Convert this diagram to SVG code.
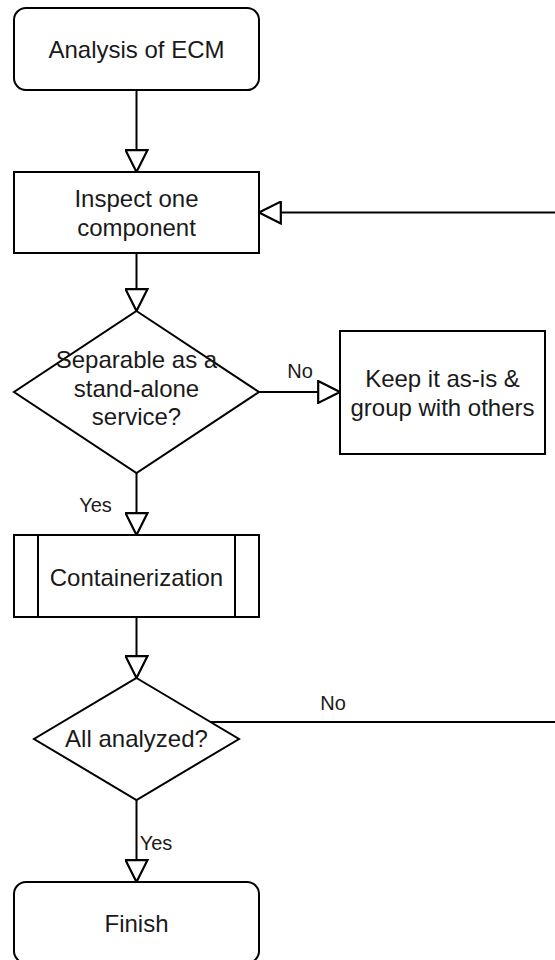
<svg xmlns="http://www.w3.org/2000/svg" width="555" height="960" viewBox="0 0 555 960">
<style>
.shape{fill:#fff;stroke:#000;stroke-width:2}
.edge{fill:none;stroke:#000;stroke-width:2}
.t{font-family:"Liberation Sans",Arial,sans-serif;font-size:24px;fill:#1a1a1a;text-anchor:middle}
.lbl{font-family:"Liberation Sans",Arial,sans-serif;font-size:20px;fill:#1a1a1a;text-anchor:middle}
</style>
<defs>
<marker id="arr" markerUnits="userSpaceOnUse" markerWidth="24" markerHeight="24" viewBox="-1 -11 22 22" refX="20" refY="0" orient="auto">
<path d="M0,-10 L20,0 L0,10 Z" fill="#fff" stroke="#000" stroke-width="2" stroke-linejoin="miter"/>
</marker>
</defs>
<g id="n-analysis">
<rect class="shape" x="14" y="8" width="245" height="82" rx="12" ry="12"/>
<text class="t" x="136.5" y="58">Analysis of ECM</text>
</g>
<g id="n-inspect">
<rect class="shape" x="14" y="172" width="245" height="81"/>
<text class="t" x="136.5" y="207">Inspect one</text>
<text class="t" x="136.5" y="236">component</text>
</g>
<g id="n-separable">
<polygon class="shape" points="136.5,311 259,392 136.5,473 14,392"/>
<text class="t" x="136.5" y="368">Separable as a</text>
<text class="t" x="136.5" y="397">stand-alone</text>
<text class="t" x="136.5" y="425">service?</text>
</g>
<g id="n-keep">
<rect class="shape" x="340" y="331" width="205" height="123"/>
<text class="t" x="442.5" y="387">Keep it as-is &amp;</text>
<text class="t" x="442.5" y="416">group with others</text>
</g>
<g id="n-container">
<rect class="shape" x="14" y="535" width="245" height="82"/>
<line class="edge" x1="38" y1="535" x2="38" y2="617"/>
<line class="edge" x1="235" y1="535" x2="235" y2="617"/>
<text class="t" x="136.5" y="586">Containerization</text>
</g>
<g id="n-all">
<polygon class="shape" points="136.5,678 239,739 136.5,800 34,739"/>
<text class="t" x="136.5" y="747">All analyzed?</text>
</g>
<g id="n-finish">
<rect class="shape" x="14" y="882" width="245" height="81" rx="12" ry="12"/>
<text class="t" x="136.5" y="932">Finish</text>
</g>
<g id="edges">
<line class="edge" x1="136.5" y1="90" x2="136.5" y2="172" marker-end="url(#arr)"/>
<line class="edge" x1="136.5" y1="253" x2="136.5" y2="311" marker-end="url(#arr)"/>
<line class="edge" x1="259" y1="392" x2="340" y2="392" marker-end="url(#arr)"/>
<line class="edge" x1="136.5" y1="473" x2="136.5" y2="535" marker-end="url(#arr)"/>
<line class="edge" x1="136.5" y1="617" x2="136.5" y2="678" marker-end="url(#arr)"/>
<line class="edge" x1="136.5" y1="800" x2="136.5" y2="882" marker-end="url(#arr)"/>
<line class="edge" x1="210.5" y1="722" x2="556" y2="722"/>
<line class="edge" x1="556" y1="212.5" x2="259" y2="212.5" marker-end="url(#arr)"/>
<text class="lbl" x="300" y="378">No</text>
<text class="lbl" x="95.5" y="512">Yes</text>
<text class="lbl" x="333" y="710">No</text>
<text class="lbl" x="156" y="850">Yes</text>
</g>
</svg>
